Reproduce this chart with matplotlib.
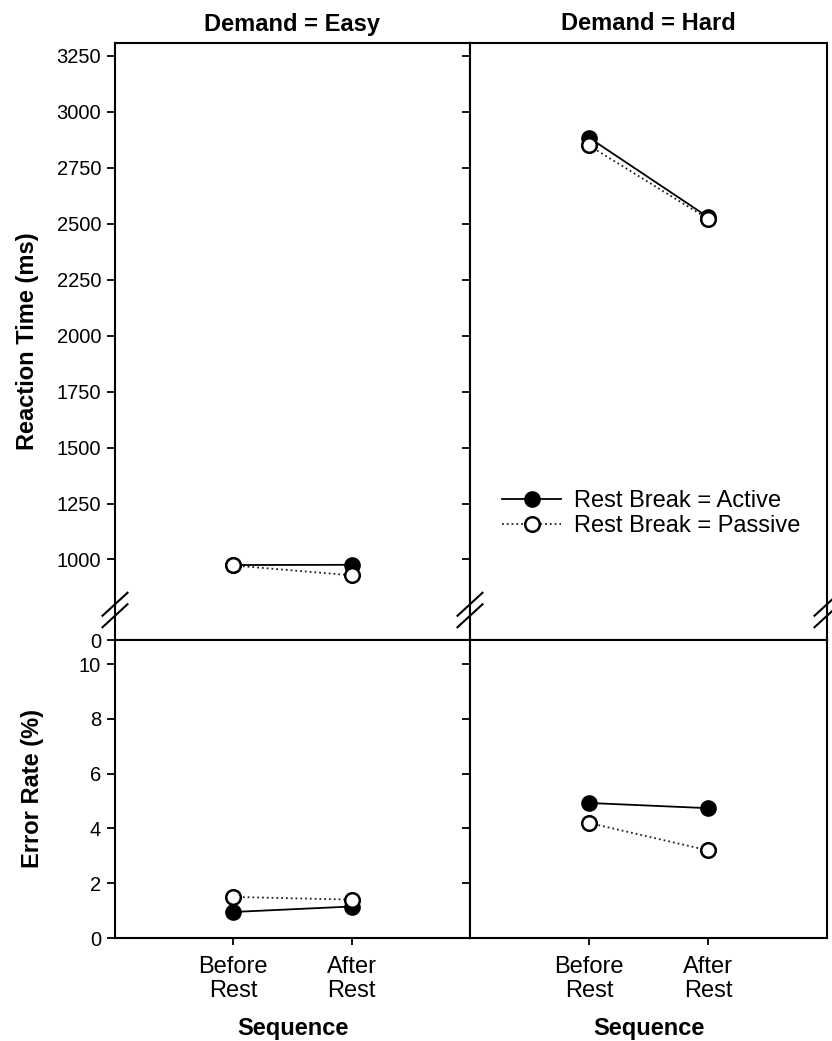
import numpy as np
import matplotlib
matplotlib.use('Agg')
import matplotlib.pyplot as plt

plt.rcParams['font.family'] = ['Liberation Sans', 'DejaVu Sans']

# data
sequence = ['Before\nRest', 'After\nRest']
xpos = [1, 2]
rt_easy_active = [975, 976]
rt_easy_passive = [973, 929]
rt_hard_active = [2885, 2530]
rt_hard_passive = [2850, 2522]
er_easy_active = [0.95, 1.15]
er_easy_passive = [1.5, 1.4]
er_hard_active = [4.93, 4.74]
er_hard_passive = [4.2, 3.2]

rt_ticks = [0, 1000, 1250, 1500, 1750, 2000, 2250, 2500, 2750, 3000, 3250]
er_ticks = [0, 2, 4, 6, 8, 10]

# broken y axis for reaction time: 0..BRK squeezed into a small band
BRK = 780.
GAP = 140.

def fwd(y):
    y = np.asarray(y, float)
    return np.where(y >= BRK, y, BRK - GAP + y * GAP / BRK)

def inv(t):
    t = np.asarray(t, float)
    return np.where(t >= BRK, t, (t - (BRK - GAP)) * BRK / GAP)

W, H = 832, 1041
fig = plt.figure(figsize=(W / 100, H / 100), dpi=100)

def box(x0, y0, x1, y1):
    return [x0 / W, 1 - y1 / H, (x1 - x0) / W, (y1 - y0) / H]

ax_rt_e = fig.add_axes(box(115, 43, 470, 640))
ax_rt_h = fig.add_axes(box(470, 43, 827, 640))
ax_er_e = fig.add_axes(box(115, 640, 470, 938))
ax_er_h = fig.add_axes(box(470, 640, 827, 938))

def draw(ax, act, pas):
    ax.plot(xpos, act, '-', color='black', lw=1.3, marker='o', ms=10.5,
            mfc='black', mec='black', mew=1.5, label='Rest Break = Active', zorder=3)
    ax.plot(xpos, pas, ':', color='#222222', lw=1.3, marker='o', ms=10.5,
            mfc='white', mec='black', mew=1.8, label='Rest Break = Passive', zorder=4)

draw(ax_rt_e, rt_easy_active, rt_easy_passive)
draw(ax_rt_h, rt_hard_active, rt_hard_passive)
draw(ax_er_e, er_easy_active, er_easy_passive)
draw(ax_er_h, er_hard_active, er_hard_passive)

for ax in [ax_rt_e, ax_rt_h, ax_er_e, ax_er_h]:
    ax.set_xlim(0, 3)
    ax.set_xticks(xpos)
    for s in ax.spines.values():
        s.set_linewidth(1.5)
    ax.tick_params(axis='y', direction='out', length=6, width=1.3, labelsize=14.5, pad=4)
    ax.tick_params(axis='x', direction='out', length=5, width=1.3, labelsize=17, pad=8)

for ax in [ax_rt_e, ax_rt_h]:
    ax.set_yscale('function', functions=(fwd, inv))
    ax.set_ylim(0, 3308)
    ax.set_yticks(rt_ticks)
    ax.set_xticklabels([])

for ax in [ax_er_e, ax_er_h]:
    ax.set_ylim(0, 10.88)
    ax.set_yticks(er_ticks)
    ax.set_xticklabels(sequence, linespacing=1.12)
    ax.set_xlabel('Sequence', fontsize=17, fontweight='bold', labelpad=11)

ax_rt_e.set_yticklabels([str(t) for t in rt_ticks])
ax_rt_h.set_yticklabels([])
ax_er_h.set_yticklabels([])
ax_er_e.set_yticklabels([str(t) for t in er_ticks])

ax_rt_e.set_title('Demand = Easy', fontsize=17, fontweight='bold', pad=9)
ax_rt_h.set_title('Demand = Hard', fontsize=17, fontweight='bold', pad=9)

ax_rt_e.set_ylabel('Reaction Time (ms)', fontsize=17, fontweight='bold')
ax_rt_e.yaxis.set_label_coords(-0.215, 0.5)
ax_er_e.set_ylabel('Error Rate (%)', fontsize=17, fontweight='bold')
ax_er_e.yaxis.set_label_coords(-0.2, 0.5)

# break marks on the spines
def breaks(ax, xs):
    wpx = ax.bbox.width
    hpx = ax.bbox.height
    cy = 30 / hpx
    dx = 12.5 / wpx
    dy = 11.5 / hpx
    off = 5.75 / hpx
    for xs_ in xs:
        for o in (-off, off):
            ax.plot([xs_ - dx, xs_ + dx], [cy + o - dy, cy + o + dy],
                    transform=ax.transAxes, color='black', lw=1.5,
                    clip_on=False, zorder=6)

breaks(ax_rt_e, [0])
breaks(ax_rt_h, [0, 1])

leg = ax_rt_h.legend(loc='center left', bbox_to_anchor=(0.09, 0.212),
                     frameon=False, fontsize=17, handlelength=2.5,
                     handletextpad=0.55, labelspacing=0.12, borderpad=0,
                     borderaxespad=0)

fig.savefig('out.png', dpi=100)
